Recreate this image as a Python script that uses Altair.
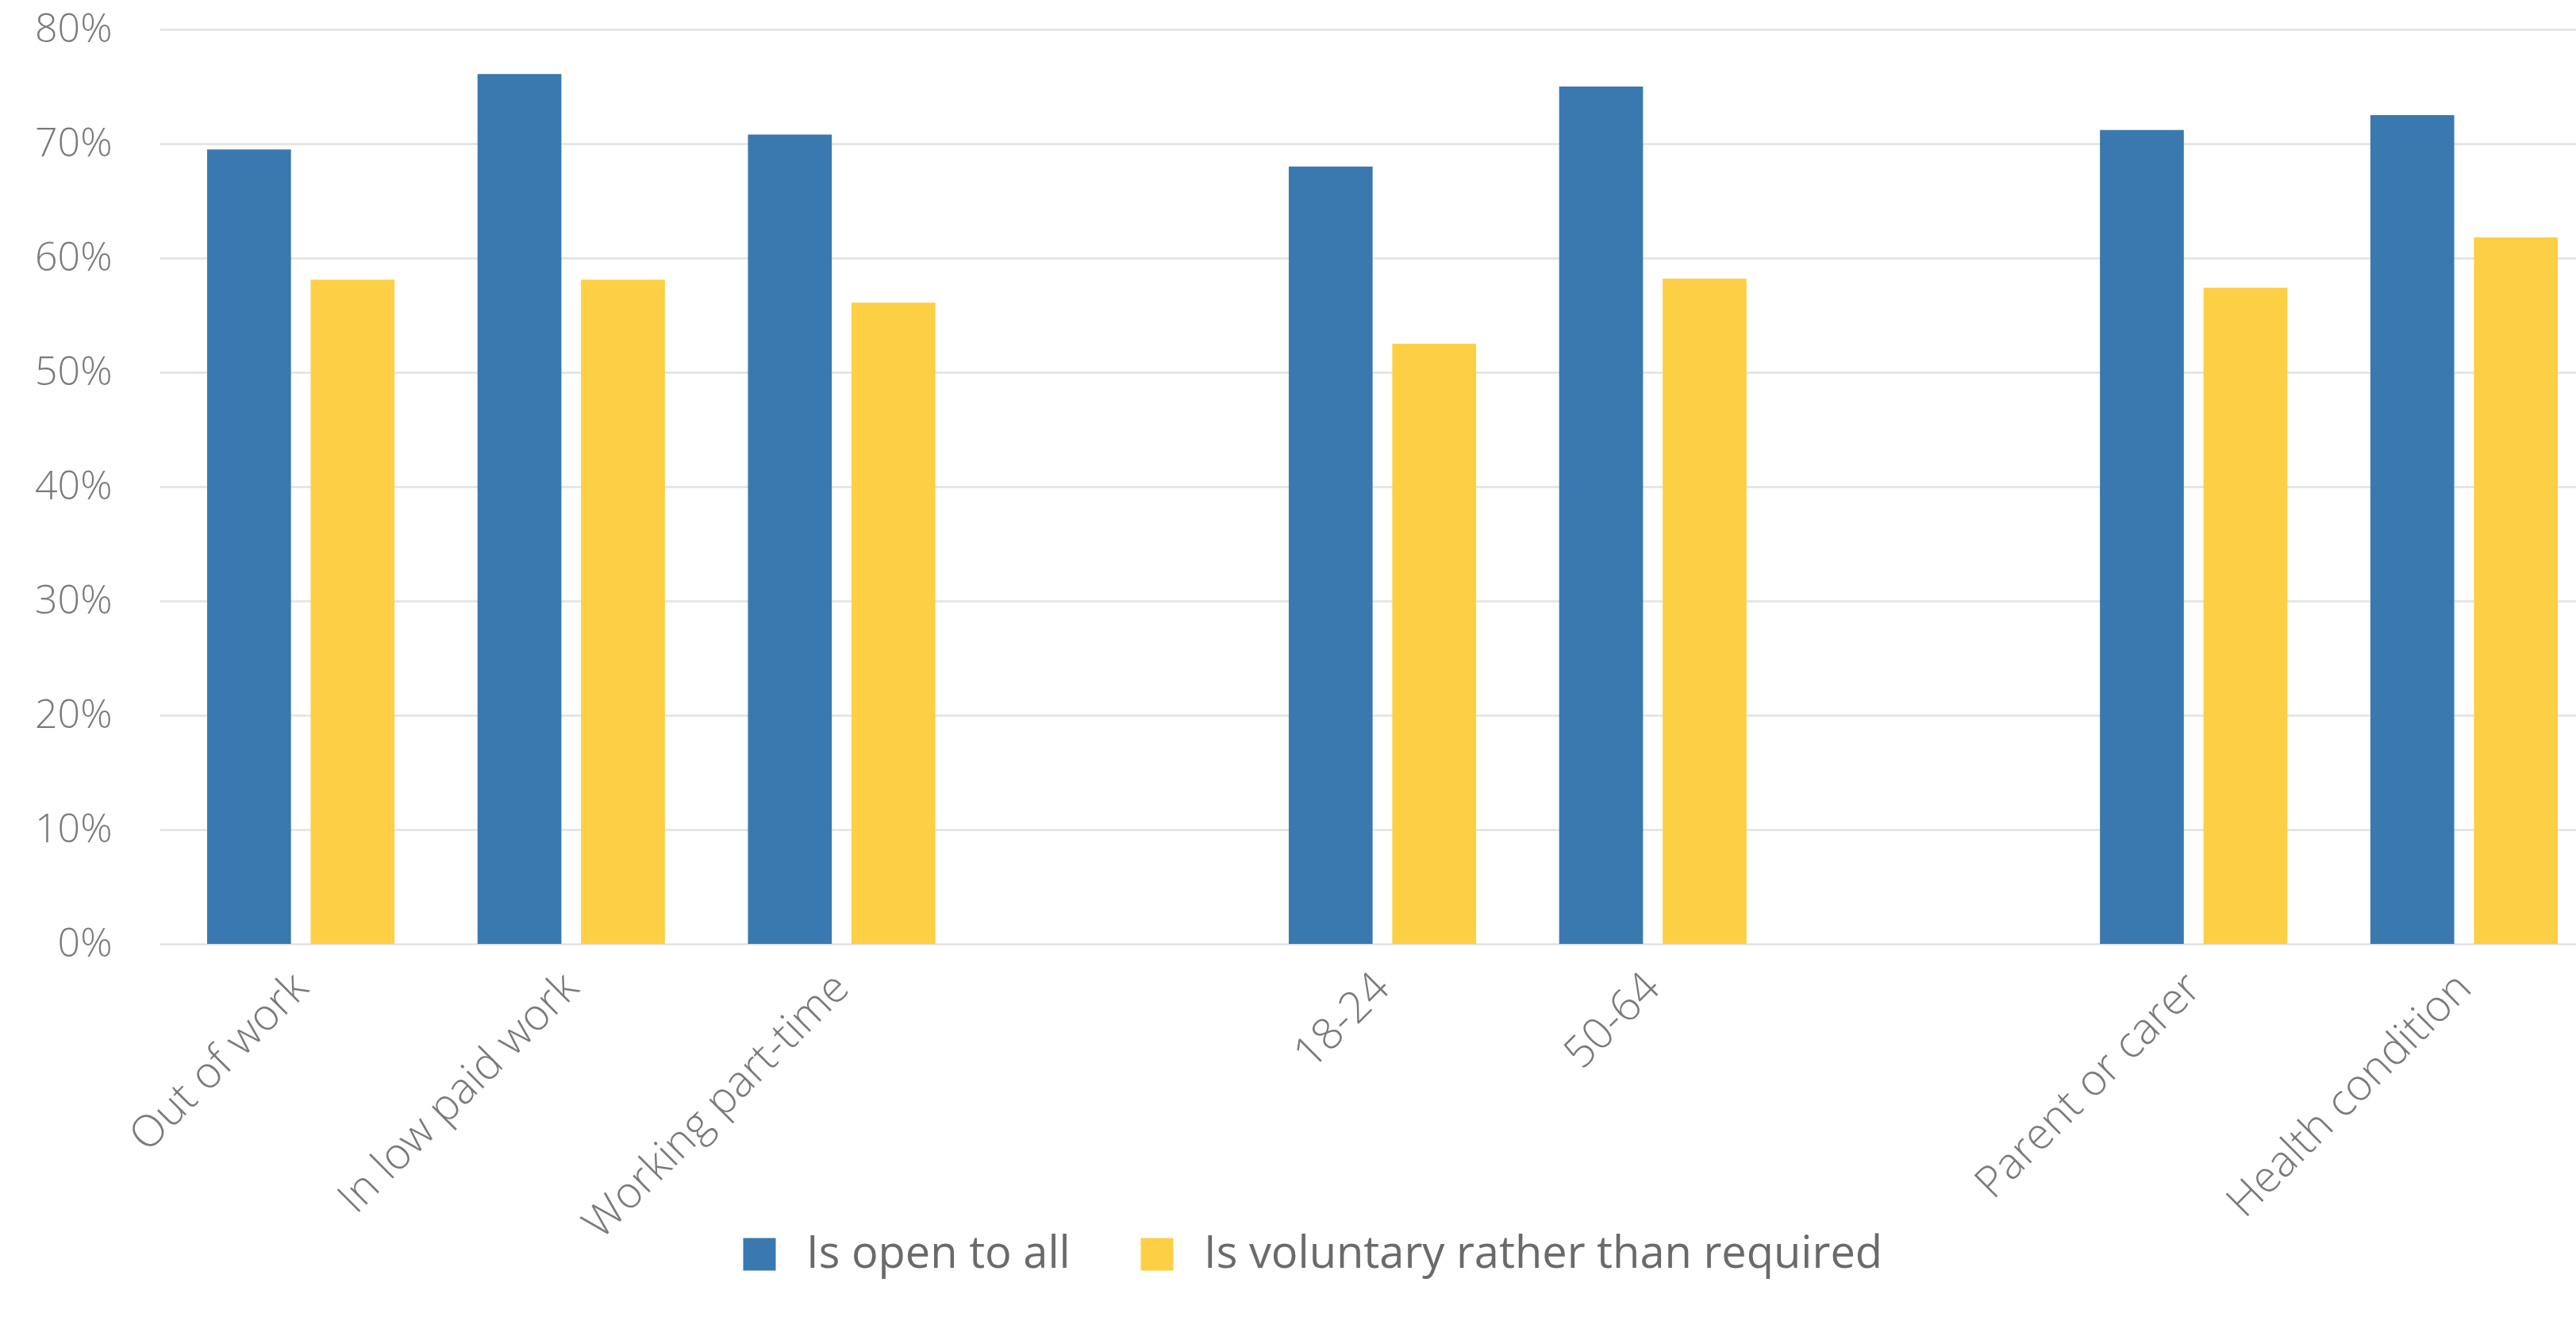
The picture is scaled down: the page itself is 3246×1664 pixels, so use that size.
import altair as alt
import pandas as pd

# Category slots along the x axis; blank slots separate the three groups
slots = ["Out of work", "In low paid work", "Working part-time", " ",
         "18-24", "50-64", "  ", "Parent or carer", "Health condition"]
categories = ["Out of work", "In low paid work", "Working part-time",
              "18-24", "50-64", "Parent or carer", "Health condition"]
series_names = ["Is open to all", "Is voluntary rather than required"]
series_colors = ["#3979B0", "#FDCF45"]

# Share of respondents (%) per category
open_to_all = [69.5, 76.1, 70.8, 68.0, 75.0, 71.2, 72.5]
voluntary = [58.1, 58.1, 56.1, 52.5, 58.2, 57.4, 61.8]

rows = []
for cat, a, b in zip(categories, open_to_all, voluntary):
    rows.append({"category": cat, "series": series_names[0], "value": a})
    rows.append({"category": cat, "series": series_names[1], "value": b})
df = pd.DataFrame(rows)

FONT = "Open Sans"

bars = alt.Chart(df).mark_bar().encode(
    x=alt.X(
        "category:N",
        sort=slots,
        scale=alt.Scale(domain=slots, paddingInner=0.307, paddingOuter=0.1218, align=0.723),
        axis=alt.Axis(
            title=None, labelAngle=-45, labelAlign="right", labelBaseline="middle",
            labelPadding=46, ticks=False, domain=False, labelFont=FONT,
            labelFontSize=55, labelFontWeight=300, labelColor="#7a7a7a",
            labelOverlap=False, labelLimit=0,
        ),
    ),
    xOffset=alt.XOffset("series:N", sort=series_names,
                        scale=alt.Scale(domain=series_names, paddingInner=0.19)),
    y=alt.Y(
        "value:Q",
        scale=alt.Scale(domain=[0, 80], nice=False),
        axis=alt.Axis(
            title=None, values=[0, 10, 20, 30, 40, 50, 60, 70, 80],
            labelExpr="datum.value + '%'", ticks=False, domain=False,
            grid=True, gridColor="#e2e2e2", gridWidth=2.5,
            labelPadding=60, labelFont=FONT, labelFontSize=50,
            labelFontWeight=300, labelColor="#7a7a7a",
        ),
    ),
    color=alt.Color(
        "series:N",
        sort=series_names,
        scale=alt.Scale(domain=series_names, range=series_colors),
        legend=alt.Legend(
            title=None, orient="none", direction="horizontal",
            legendX=728, legendY=1515, symbolType="square", symbolSize=1681,
            symbolStrokeWidth=0, labelFont=FONT, labelFontSize=56,
            labelColor="#6a6a6a", labelOffset=31, columnPadding=81,
            labelLimit=0,
        ),
    ),
).properties(
    width=3045,
    height=1152,
    autosize=alt.AutoSizeParams(type="none"),
    padding={"left": 201, "top": 37, "right": 0, "bottom": 475},
    background="white",
).configure_view(stroke=None)

chart = bars
chart.save("out.html", embed_options={"renderer": "svg", "actions": False})
